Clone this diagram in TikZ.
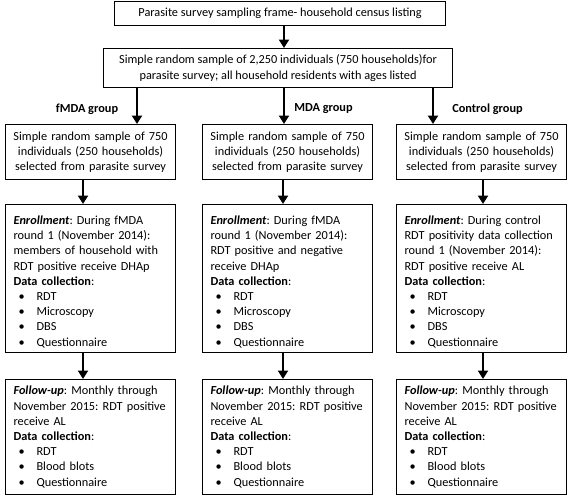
\documentclass[tikz,border=0pt]{standalone}
\usepackage{fontspec}
\setmainfont{Carlito}
\usetikzlibrary{arrows.meta}
\newcommand\fsz{\fontsize{12.3}{15.2}\selectfont\frenchspacing}
\newcommand\itm[1]{\hspace*{5pt}\makebox[18pt][l]{\textbullet}#1}
\begin{document}
\begin{tikzpicture}[x=1pt,y=-1pt,
 box/.style={draw, line width=1.1pt, inner xsep=8pt, inner ysep=0pt, font=\fsz, anchor=north west},
 colbox/.style={box, align=left, text width=154pt},
 selbox/.style={box, align=center, inner xsep=6pt, text width=158pt, minimum height=55pt},
 arr/.style={line width=2.6pt, -{Triangle[width=10pt,length=8.5pt]}},
 lbl/.style={font=\fsz\bfseries}]
\useasboundingbox (0,0) rectangle (567,498);
\node[box, align=center, minimum width=331pt, minimum height=24pt] (frame) at (114,1) {Parasite survey sampling frame- household census listing};
\node[box, align=center, minimum width=349pt, minimum height=39pt] (srs) at (103,48) {Simple random sample of 2,250 individuals (750 households)for\\parasite survey; all household residents with ages listed};

\node[lbl] (g1) at (87,109) {fMDA group};
\node[lbl] (g2) at (323.5,109) {MDA group};
\node[lbl] (g3) at (487.5,109) {Control group};

\node[selbox] (s1) at (5,124) {Simple random sample of 750\\individuals (250 households)\\selected from parasite survey};
\node[selbox] (s2) at (202,124) {Simple random sample of 750\\individuals (250 households)\\selected from parasite survey};
\node[selbox] (s3) at (396,124) {Simple random sample of 750\\individuals (250 households)\\selected from parasite survey};

\node[colbox, minimum height=148pt] (e1) at (5,204) {\rule{0pt}{15pt}\textbf{\textit{Enrollment}}: During fMDA\\round 1 (November 2014):\\members of household with\\RDT positive receive DHAp\\\textbf{Data collection}:\\\itm{RDT}\\\itm{Microscopy}\\\itm{DBS}\\\itm{Questionnaire}};
\node[colbox, minimum height=148pt] (e2) at (202,204) {\rule{0pt}{15pt}\textbf{\textit{Enrollment}}: During fMDA\\round 1 (November 2014):\\RDT positive and negative\\receive DHAp\\\textbf{Data collection}:\\\itm{RDT}\\\itm{Microscopy}\\\itm{DBS}\\\itm{Questionnaire}};
\node[colbox, minimum height=148pt] (e3) at (396,204) {\rule{0pt}{15pt}\textbf{\textit{Enrollment}}: During control\\RDT positivity data collection\\round 1 (November 2014):\\RDT positive receive AL\\\textbf{Data collection}:\\\itm{RDT}\\\itm{Microscopy}\\\itm{DBS}\\\itm{Questionnaire}};

\node[colbox, minimum height=115pt] (f1) at (5,379) {\textbf{\textit{Follow-up}}: Monthly through\\November 2015: RDT positive\\receive AL\\\textbf{Data collection}:\\\itm{RDT}\\\itm{Blood blots}\\\itm{Questionnaire}};
\node[colbox, minimum height=115pt] (f2) at (202,379) {\textbf{\textit{Follow-up}}: Monthly through\\November 2015: RDT positive\\receive AL\\\textbf{Data collection}:\\\itm{RDT}\\\itm{Blood blots}\\\itm{Questionnaire}};
\node[colbox, minimum height=115pt] (f3) at (396,379) {\textbf{\textit{Follow-up}}: Monthly through\\November 2015: RDT positive\\receive AL\\\textbf{Data collection}:\\\itm{RDT}\\\itm{Blood blots}\\\itm{Questionnaire}};

\coordinate (xa) at (284,0);
\coordinate (xb) at (137,0);
\coordinate (xc) at (433,0);
\coordinate (x1) at (83,0);
\coordinate (x2) at (283,0);
\coordinate (x3) at (483,0);

\draw[arr] (frame.south -| xa) -- (srs.north -| xa);
\draw[arr] (srs.south -| xb) -- (s1.north -| xb);
\draw[arr] (srs.south -| xa) -- (s2.north -| xa);
\draw[arr] (srs.south -| xc) -- (s3.north -| xc);
\draw[arr] (s1.south -| x1) -- (e1.north -| x1);
\draw[arr] (s2.south -| x2) -- (e2.north -| x2);
\draw[arr] (s3.south -| x3) -- (e3.north -| x3);
\draw[arr] (e1.south -| x1) -- (f1.north -| x1);
\draw[arr] (e2.south -| x2) -- (f2.north -| x2);
\draw[arr] (e3.south -| x3) -- (f3.north -| x3);
\end{tikzpicture}
\end{document}
